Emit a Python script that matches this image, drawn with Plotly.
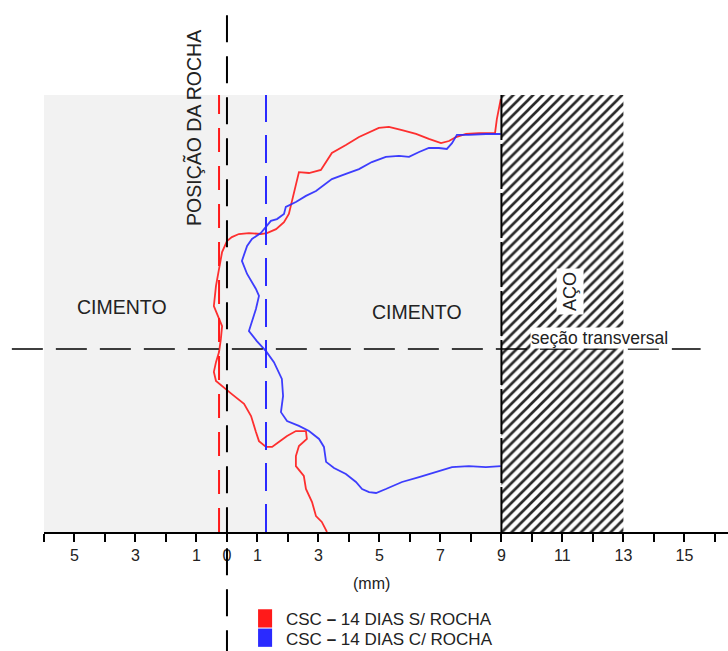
import plotly.graph_objects as go

# Cross-section outlines (mm): x = distance along section, y = position across section
red_x = [8.98, 8.85, 8.79, 8.26, 7.84, 7.51, 7.28, 7.02, 6.62, 6.20, 5.74, 5.31, 4.98, 4.66,
         4.33, 3.90, 3.44, 3.08, 2.69, 2.36, 2.20, 2.03, 1.87, 1.61, 1.31, 1.11, 0.72, 0.39,
         0.16, 0.00, -0.16, -0.26, -0.36, -0.43, -0.26, -0.16, -0.20, -0.26, -0.36, -0.43,
         -0.36, -0.10, 0.16, 0.56, 0.79, 0.95, 1.05, 1.28, 1.48, 1.70, 1.97, 2.26, 2.59,
         2.62, 2.36, 2.26, 2.26, 2.52, 2.59, 2.79, 2.92, 3.11, 3.28]
red_y = [8.20, 7.54, 7.08, 7.08, 7.05, 6.95, 6.82, 6.75, 6.89, 7.05, 7.18, 7.28, 7.25, 7.11,
         6.95, 6.69, 6.43, 5.87, 5.77, 5.80, 5.15, 4.43, 4.16, 3.93, 3.80, 3.77, 3.80, 3.77,
         3.67, 3.54, 3.18, 2.62, 2.07, 1.41, 0.98, 0.75, 0.33, -0.10, -0.43, -0.75,
         -1.05, -1.28, -1.48, -1.80, -2.20, -2.72, -3.02, -3.21, -3.21, -3.05, -2.85, -2.69, -2.69,
         -2.95, -3.18, -3.51, -3.84, -4.16, -4.59, -5.02, -5.48, -5.67, -6.00]

blue_x = [8.98, 8.49, 7.93, 7.54, 7.38, 7.21, 6.95, 6.62, 6.30, 5.97, 5.64, 5.21, 4.75, 4.33,
          3.90, 3.44, 2.92, 2.59, 2.26, 1.93, 1.87, 1.64, 1.44, 1.31, 1.11, 0.82, 0.66, 0.49,
          0.66, 0.95, 1.05, 0.95, 0.72, 0.98, 1.28, 1.54, 1.80, 1.84, 1.77, 1.97, 2.36, 2.69,
          3.02, 3.18, 3.25, 3.51, 3.90, 4.23, 4.43, 4.66, 4.89, 5.21, 5.74, 6.30, 6.85, 7.38,
          7.93, 8.49, 8.98]
blue_y = [7.05, 7.05, 7.02, 7.02, 6.75, 6.56, 6.59, 6.59, 6.46, 6.30, 6.33, 6.30, 6.13, 5.90,
          5.74, 5.57, 5.18, 5.02, 4.82, 4.66, 4.43, 4.26, 4.20, 4.03, 3.80, 3.61, 3.38, 2.89,
          2.46, 1.97, 1.74, 1.31, 0.59, 0.26, -0.07, -0.43, -0.98, -1.54, -2.07, -2.36, -2.52, -2.69,
          -2.95, -3.21, -3.70, -3.90, -4.10, -4.36, -4.59, -4.69, -4.72, -4.59, -4.36, -4.20, -4.03, -3.87,
          -3.84, -3.87, -3.84]

# Rock positions for each series (mm)
rock_red = -0.26
rock_blue = 1.28

# Regions (mm)
cement_x = [-6, 9]
steel_x = [9, 13]
section_y = [-6, 8.33]

# Axis ticks
tick_vals = list(range(-6, 17))
labelled = {-5: "5", -3: "3", -1: "1", 0: "0", 1: "1", 3: "3", 5: "5", 7: "7",
            9: "9", 11: "11", 13: "13", 15: "15"}
tick_text = [labelled.get(v, "") for v in tick_vals]

legend_labels = ["CSC <b>–</b> 14 DIAS S/ ROCHA", "CSC <b>–</b> 14 DIAS C/ ROCHA"]
RED = "#ff1a1a"
BLUE = "#2a2aff"
INK = "#222222"
FONT = "Liberation Sans, Arial, sans-serif"

fig = go.Figure()

# Steel region with diagonal hatching
fig.add_trace(go.Scatter(
    x=[steel_x[0], steel_x[1], steel_x[1], steel_x[0], steel_x[0]],
    y=[section_y[0], section_y[0], section_y[1], section_y[1], section_y[0]],
    mode="lines", fill="toself", line=dict(width=0),
    fillcolor="white",
    fillpattern=dict(shape="/", size=7, solidity=0.38, fgcolor="#2a2a2a",
                     bgcolor="white", fillmode="replace"),
    hoverinfo="skip", showlegend=False))

fig.add_trace(go.Scatter(x=red_x, y=red_y, mode="lines",
                         line=dict(color=RED, width=1.8),
                         opacity=0.9, showlegend=False))
fig.add_trace(go.Scatter(x=blue_x, y=blue_y, mode="lines",
                         line=dict(color=BLUE, width=1.8),
                         opacity=0.9, showlegend=False))

shapes = [
    # cement cross-section background
    dict(type="rect", xref="x", yref="y", x0=cement_x[0], x1=cement_x[1],
         y0=section_y[0], y1=section_y[1], fillcolor="#f2f2f2",
         line=dict(width=0), layer="below"),
    # steel boundary
    dict(type="line", xref="x", yref="y", x0=9, x1=9, y0=section_y[0], y1=section_y[1],
         line=dict(color="black", width=2, dash="45px,4px")),
    # rock positions
    dict(type="line", xref="x", yref="y", x0=rock_red, x1=rock_red,
         y0=section_y[0], y1=section_y[1],
         line=dict(color=RED, width=2, dash="24px,14px")),
    dict(type="line", xref="x", yref="y", x0=rock_blue, x1=rock_blue,
         y0=section_y[0], y1=section_y[1],
         line=dict(color=BLUE, width=2, dash="28px,13px")),
    # reference lines
    dict(type="line", xref="x", yref="paper", x0=0, x1=0, y0=0.990, y1=-0.228,
         line=dict(color="black", width=2, dash="27px,14px")),
    dict(type="line", xref="paper", yref="y", x0=-0.047, x1=0.96, y0=0, y1=0,
         line=dict(color="black", width=1.6, dash="31px,13px")),
    # legend swatches
    dict(type="rect", xref="x", yref="paper", x0=1.02, x1=1.48, y0=-0.148, y1=-0.183,
         fillcolor=RED, line=dict(width=0)),
    dict(type="rect", xref="x", yref="paper", x0=1.02, x1=1.48, y0=-0.185, y1=-0.220,
         fillcolor=BLUE, line=dict(width=0)),
]

annotations = [
    dict(x=-1.08, y=7.25, xref="x", yref="y", text="POSIÇÃO DA ROCHA", textangle=-90,
         showarrow=False, font=dict(size=19.5, color=INK)),
    dict(x=-3.44, y=1.38, xref="x", yref="y", text="CIMENTO", showarrow=False,
         font=dict(size=19.5, color=INK)),
    dict(x=6.23, y=1.21, xref="x", yref="y", text="CIMENTO", showarrow=False,
         font=dict(size=19.5, color=INK)),
    dict(x=11.25, y=1.87, xref="x", yref="y", text="AÇO", textangle=-90, showarrow=False,
         font=dict(size=18, color=INK), bgcolor="white", borderpad=3),
    dict(x=12.2, y=0.36, xref="x", yref="y", text="seção transversal", showarrow=False,
         font=dict(size=17.5, color=INK), bgcolor="white", borderpad=0),
    dict(x=4.75, y=-0.098, xref="x", yref="paper", yanchor="middle", text="(mm)",
         showarrow=False, font=dict(size=16, color=INK)),
    dict(x=1.87, y=-0.1667, xref="x", yref="paper", yanchor="middle", text=legend_labels[0],
         showarrow=False, xanchor="left", font=dict(size=17, color=INK)),
    dict(x=1.87, y=-0.205, xref="x", yref="paper", yanchor="middle", text=legend_labels[1],
         showarrow=False, xanchor="left", font=dict(size=17, color=INK)),
]

fig.update_layout(
    width=728, height=651,
    margin=dict(l=44, r=0, t=10, b=119),
    paper_bgcolor="white", plot_bgcolor="white",
    font=dict(family=FONT, color=INK),
    shapes=shapes, annotations=annotations,
    xaxis=dict(range=[-6, 16.43], tickmode="array", tickvals=tick_vals, ticktext=tick_text,
               ticks="outside", ticklen=8, tickwidth=1.5, tickcolor="black",
               showline=True, linecolor="black", linewidth=2, showgrid=False,
               zeroline=False, tickfont=dict(size=16, color=INK), fixedrange=True),
    yaxis=dict(range=[-6, 11.115], visible=False, showgrid=False, zeroline=False,
               fixedrange=True),
    showlegend=False,
)

fig.write_html("out.html")
